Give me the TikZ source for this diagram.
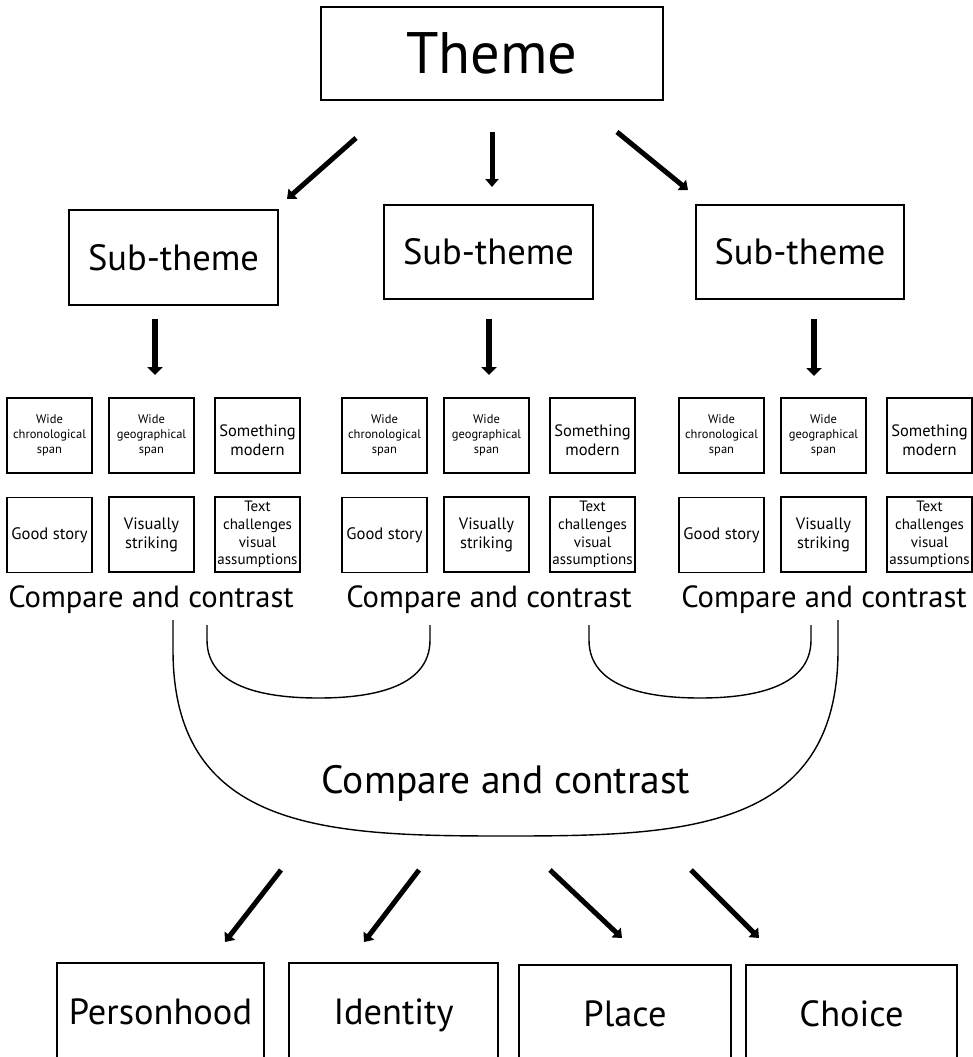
\documentclass[tikz,border=0pt]{standalone}
\usepackage{fontspec}
\setmainfont{PT Sans}
\usetikzlibrary{arrows.meta}
\begin{document}
\begin{tikzpicture}[x=1pt,y=-1pt,
  box/.style={draw, line width=1.6pt, inner sep=0pt, align=center},
  tbox/.style={box, minimum width=342pt, minimum height=93pt, font=\fontsize{58.5}{62}\selectfont},
  sbox/.style={box, minimum width=209pt, minimum height=94pt, font=\fontsize{36.5}{40}\selectfont},
  cbox/.style={box, minimum width=85pt, minimum height=75pt},
  tiny/.style={font=\fontsize{12.5}{15}\selectfont},
  mid/.style={font=\fontsize{16.5}{19}\selectfont},
  small/.style={font=\fontsize{15}{17.7}\selectfont},
  bbox/.style={box, minimum height=104pt, text height=25pt, text depth=7pt, font=\fontsize{36.4}{40}\selectfont},
  cmp/.style={inner sep=0pt, anchor=base, font=\fontsize{30.6}{34}\selectfont},
  bigcmp/.style={inner sep=0pt, anchor=base, font=\fontsize{39.5}{44}\selectfont},
  bigarrow/.style={line width=5pt, -{Triangle[width=13pt,length=8pt]}},
  curve/.style={line width=1.4pt}
]
\clip (0,0) rectangle (973,1057);
\fill[white] (0,0) rectangle (973,1057);

% Theme and sub-themes
\node[tbox] (theme) at (492,53.5) {Theme};
\node[sbox, minimum height=95pt] (sub1) at (173.5,257.5) {Sub-theme};
\node[sbox] (sub2) at (488.5,252) {Sub-theme};
\node[sbox, minimum width=208pt] (sub3) at (800,252) {Sub-theme};

% arrows top
\coordinate (t1s) at (356,138); \coordinate (t1e) at (287,199);
\coordinate (t2s) at (492,132); \coordinate (t2e) at (492,187);
\coordinate (t3s) at (617,132); \coordinate (t3e) at (688,190);
\draw[bigarrow] (t1s) -- (t1e);
\draw[bigarrow] (t2s) -- (t2e);
\draw[bigarrow] (t3s) -- (t3e);

\coordinate (s1s) at (155,319); \coordinate (s1e) at (155,375);
\coordinate (s2s) at (489,319); \coordinate (s2e) at (489,375);
\coordinate (s3s) at (814,319); \coordinate (s3e) at (814,376);
\draw[bigarrow, line width=5.5pt, -{Triangle[width=15pt,length=8pt]}] (s1s) -- (s1e);
\draw[bigarrow, line width=5.5pt, -{Triangle[width=15pt,length=8pt]}] (s2s) -- (s2e);
\draw[bigarrow, line width=5.5pt, -{Triangle[width=15pt,length=8pt]}] (s3s) -- (s3e);

% criteria boxes, three groups
\foreach \g/\n in {7/a,342/b,679/c}{
  \node[cbox, tiny] (wc\n) at (\g+42.5,435.5) {Wide\\chronological\\span};
  \node[cbox, tiny] (wg\n) at (\g+144.5,435.5) {Wide\\geographical\\span};
  \node[cbox, mid, text height=41pt] (sm\n) at (\g+250.5,435.5) {Something\\modern};
  \node[cbox, font=\fontsize{16.6}{19}\selectfont] (gs\n) at (\g+42.5,535) {Good story};
  \node[cbox, mid] (vs\n) at (\g+144.5,534.5) {Visually\\striking};
  \node[cbox, small] (tc\n) at (\g+250.5,534.5) {Text\\challenges\\visual\\assumptions};
}

% compare labels
\node[cmp] (cmpa) at (151,607) {Compare and contrast};
\node[cmp] (cmpb) at (489,607) {Compare and contrast};
\node[cmp] (cmpc) at (824,607) {Compare and contrast};
\node[bigcmp] (cmpall) at (506,793) {Compare and contrast};

% curves
\draw[curve] (207,625) -- (207,640) to[out=-90,in=180] (318.5,698) to[out=0,in=-90] (430,640) -- (430,625);
\draw[curve] (589,625) -- (589,640) to[out=-90,in=180] (700,698) to[out=0,in=-90] (811,640) -- (811,625);
\draw[curve] (173,620) -- (173,650) .. controls (173,832) and (330,836) .. (506,836)
   .. controls (682,836) and (838,832) .. (838,650) -- (838,620);

% bottom arrows
\coordinate (b1s) at (281,870); \coordinate (b1e) at (225,942);
\coordinate (b2s) at (419,870); \coordinate (b2e) at (364,942);
\coordinate (b3s) at (550,870); \coordinate (b3e) at (622,938);
\coordinate (b4s) at (691,870); \coordinate (b4e) at (759,938);
\draw[bigarrow] (b1s) -- (b1e);
\draw[bigarrow] (b2s) -- (b2e);
\draw[bigarrow] (b3s) -- (b3e);
\draw[bigarrow] (b4s) -- (b4e);

% bottom boxes
\node[bbox, minimum width=207pt] (person) at (160.5,1015) {Personhood};
\node[bbox, minimum width=209pt] (ident) at (393.5,1015) {Identity};
\node[bbox, minimum width=212pt] (place) at (625,1017) {Place};
\node[bbox, minimum width=211pt] (choice) at (851.5,1017) {Choice};
\end{tikzpicture}
\end{document}
